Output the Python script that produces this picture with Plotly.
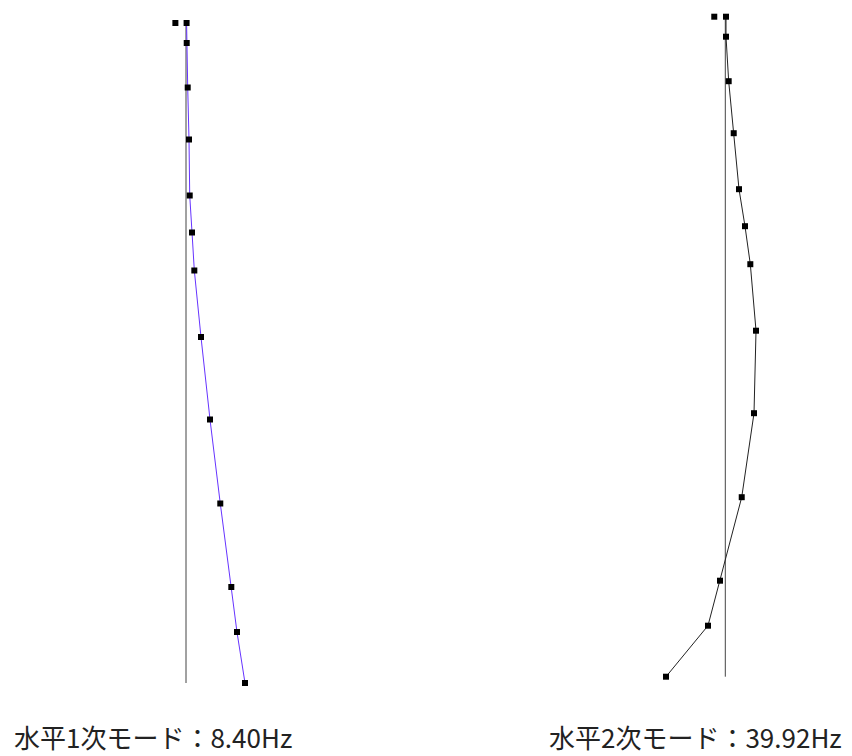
import plotly.graph_objects as go

# Depth of each level (m, 0 = top)
depth = [0.0, 2.0, 6.45, 11.65, 17.25, 20.95, 24.75, 31.4, 39.65, 48.05, 56.4, 60.9, 66.0]

# Normalised mode shapes
mode1 = [0.010, 0.012, 0.029, 0.051, 0.063, 0.102, 0.141, 0.254, 0.407, 0.581, 0.768, 0.864, 1.0]
mode2 = [0.012, 0.012, 0.057, 0.142, 0.231, 0.332, 0.422, 0.518, 0.484, 0.277, -0.089, -0.292, -1.0]

# Isolated reference markers at the top
ref1_x, ref1_y = [-0.18], [0.0]
ref2_x, ref2_y = [-0.186], [0.0]

# Baseline (undeformed axis)
base_x = [0, 0]
base_y = [0.0, 66.0]

labels = ["水平1次モード：8.40Hz", "水平2次モード：39.92Hz"]

fig = go.Figure()

# Left: mode 1
fig.add_trace(go.Scatter(x=base_x, y=base_y, mode="lines",
                         line=dict(color="#444444", width=1),
                         xaxis="x", yaxis="y", hoverinfo="skip"))
fig.add_trace(go.Scatter(x=mode1, y=depth, mode="lines+markers",
                         line=dict(color="#6633ff", width=1),
                         marker=dict(symbol="square", size=6, color="black"),
                         xaxis="x", yaxis="y"))
fig.add_trace(go.Scatter(x=ref1_x, y=ref1_y, mode="markers",
                         marker=dict(symbol="square", size=6, color="black"),
                         xaxis="x", yaxis="y"))

# Right: mode 2
fig.add_trace(go.Scatter(x=base_x, y=base_y, mode="lines",
                         line=dict(color="#444444", width=1),
                         xaxis="x2", yaxis="y2", hoverinfo="skip"))
fig.add_trace(go.Scatter(x=mode2, y=depth, mode="lines+markers",
                         line=dict(color="#222222", width=1),
                         marker=dict(symbol="square", size=6, color="black"),
                         xaxis="x2", yaxis="y2"))
fig.add_trace(go.Scatter(x=ref2_x, y=ref2_y, mode="markers",
                         marker=dict(symbol="square", size=6, color="black"),
                         xaxis="x2", yaxis="y2"))

hidden = dict(visible=False, showgrid=False, zeroline=False, fixedrange=True)

fig.update_layout(
    width=852, height=756,
    margin=dict(l=0, r=0, t=0, b=0),
    paper_bgcolor="white", plot_bgcolor="white",
    showlegend=False,
    xaxis=dict(domain=[0, 0.5], range=[-186 / 59, 240 / 59], **hidden),
    yaxis=dict(domain=[0, 1], range=[73.3, -2.3], **hidden),
    xaxis2=dict(domain=[0.5, 1], range=[(426 - 725.3) / 59.3, (852 - 725.3) / 59.3], **hidden),
    yaxis2=dict(domain=[0, 1], range=[73.93, -1.67], anchor="x2", **hidden),
    annotations=[
        dict(text=labels[0], x=12 / 852, y=1 - 736 / 756, xref="paper", yref="paper",
             xanchor="left", yanchor="middle", showarrow=False,
             font=dict(family="Noto Sans CJK JP", size=26, color="#222222")),
        dict(text=labels[1], x=547 / 852, y=1 - 736 / 756, xref="paper", yref="paper",
             xanchor="left", yanchor="middle", showarrow=False,
             font=dict(family="Noto Sans CJK JP", size=26, color="#222222")),
    ],
)

fig.write_html(
    "out.html",
    config={"displayModeBar": False},
    post_script="document.body.style.margin='0';document.body.style.overflow='hidden';",
)
